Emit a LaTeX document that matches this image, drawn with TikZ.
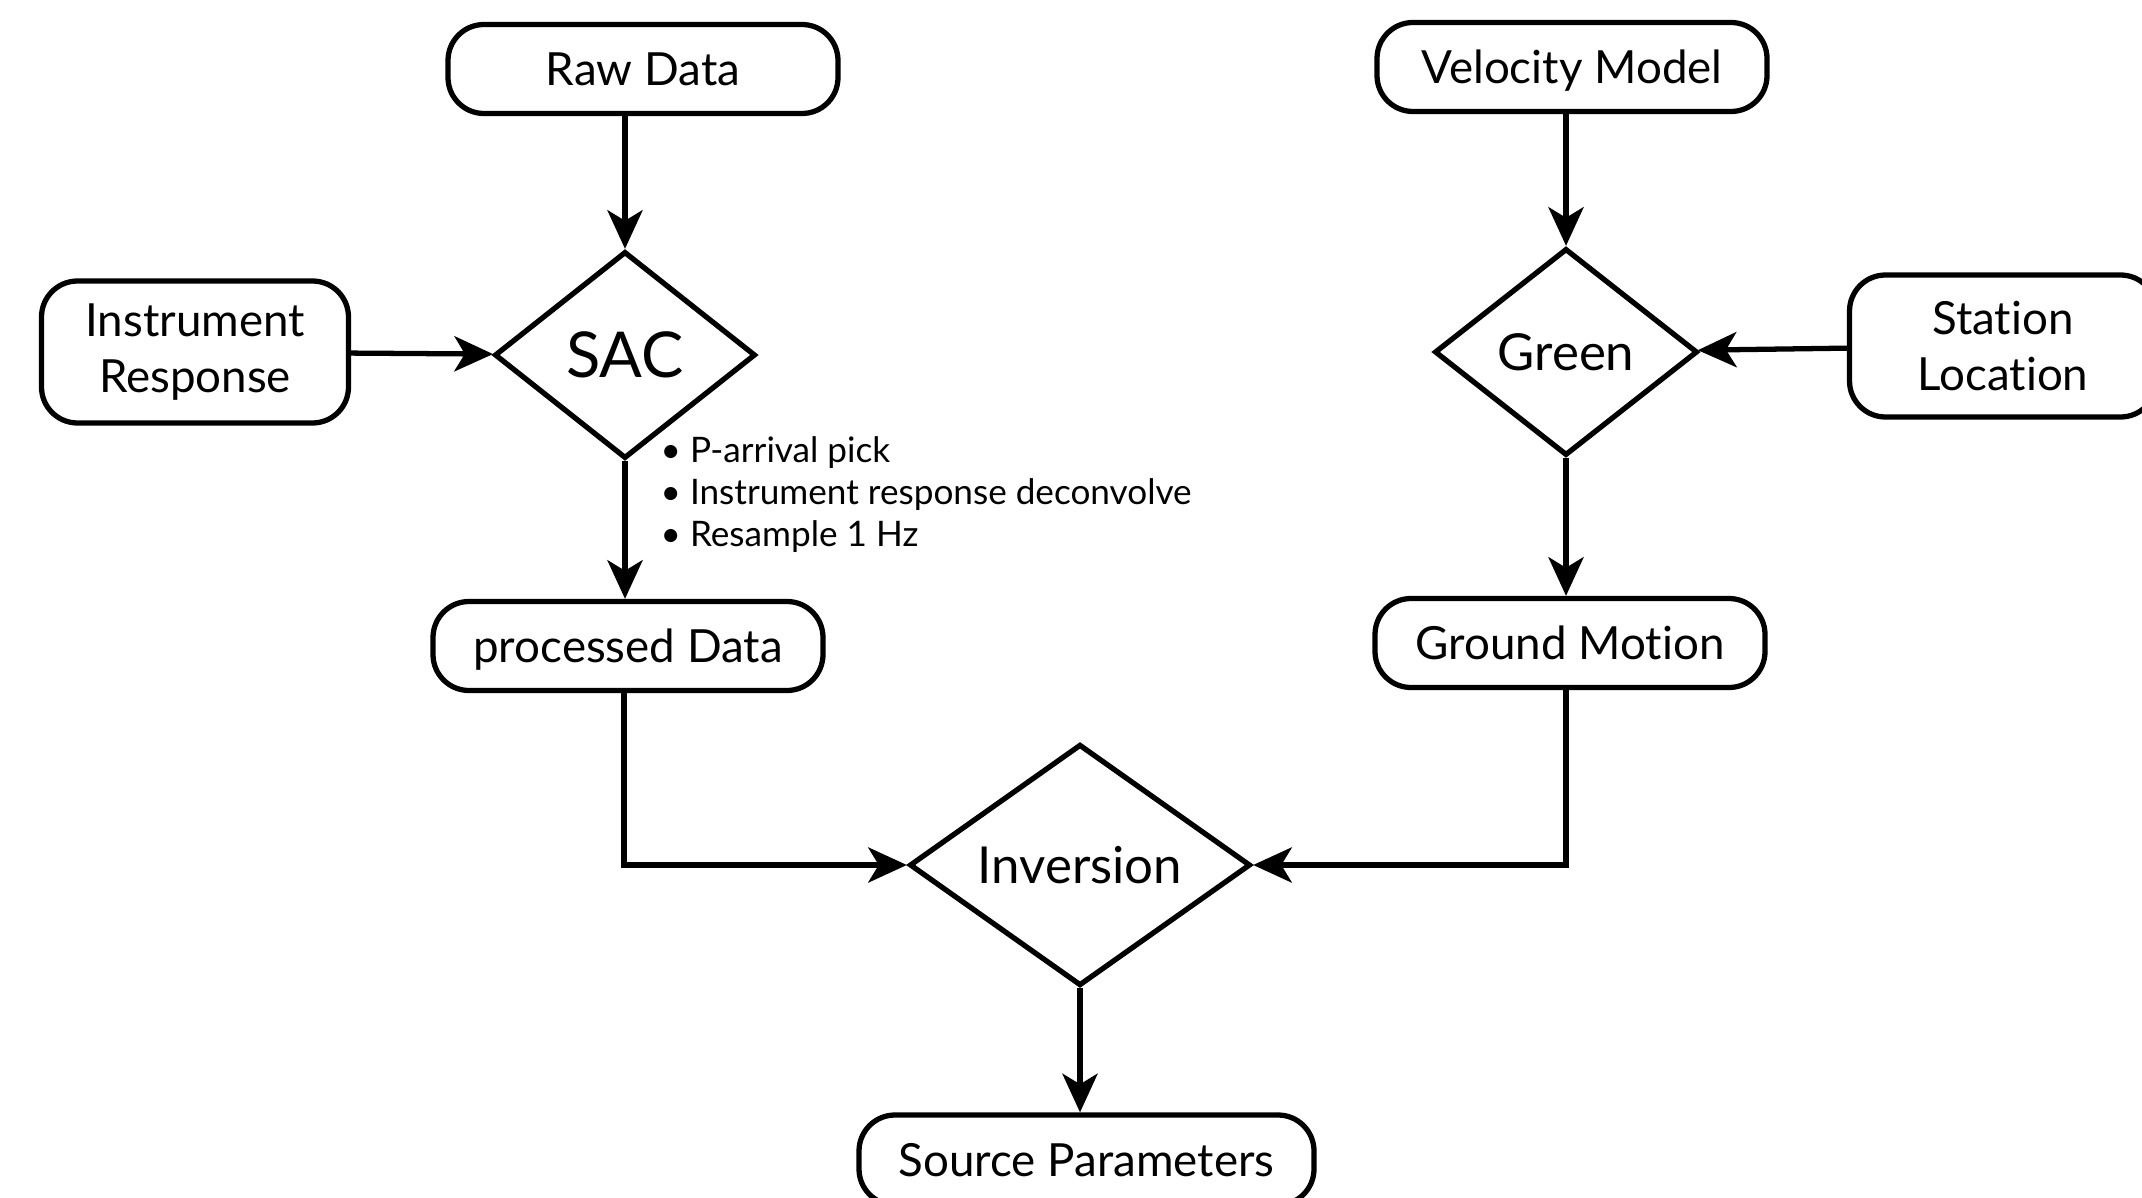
\documentclass[tikz,border=0pt]{standalone}
\usepackage{fontspec}
\setmainfont{Lato}[Ligatures=NoCommon]
\usetikzlibrary{shapes.geometric,arrows.meta}

\begin{document}
\begin{tikzpicture}[
        line width=1.5pt,
        >={Stealth[length=11pt,width=10pt,inset=3pt]},
        shapebox/.style={draw, rounded corners=0.36cm, align=center, font=\fontsize{13}{16}\selectfont},
        box/.style={shapebox, minimum width=3.9cm, minimum height=0.89cm, text depth=0pt},
        sidebox/.style={shapebox, minimum width=3.07cm, minimum height=1.42cm},
        decision/.style={draw, diamond, inner sep=0pt, text depth=0pt, font=\fontsize{14.5}{17}\selectfont},
        flow/.style={->}
    ]
        \useasboundingbox (0,0) rectangle (21.42,11.97);

        % Rama de datos
        \node[box] (raw) at (6.43,11.28) {Raw Data};
        \node[sidebox] (inst) at (1.95,8.45) {Instrument\\Response};
        \node[decision, minimum width=2.61cm, minimum height=2.07cm,
            font=\fontsize{18}{20}\selectfont] (sac) at (6.25,8.42) {SAC};
        \node[box] (proc) at (6.28,5.51) {processed Data};

        % Rama del modelo
        \node[box] (vel) at (15.72,11.30) {Velocity Model};
        \node[sidebox] (station) at (20.03,8.51) {Station\\Location};
        \node[decision, minimum width=2.63cm, minimum height=2.07cm] (green) at (15.66,8.45) {Green};
        \node[box] (ground) at (15.70,5.54) {Ground Motion};

        % Inversion
        \node[decision, minimum width=3.41cm, minimum height=2.31cm] (inv) at (10.80,3.32) {Inversion};
        \node[box, minimum width=4.55cm, minimum height=0.90cm] (src) at (10.865,0.37) {Source Parameters};

        % Pasos de SAC
        \node[anchor=north west, align=left, inner sep=0pt, font=\fontsize{10}{12}\selectfont] (steps)
            at (6.58,7.63) {\textbullet\ P-arrival pick\\
            \textbullet\ Instrument response deconvolve\\
            \textbullet\ Resample 1 Hz};

        % Flechas
        \draw[flow] (raw.south -| sac.north) -- (sac.north);
        \draw[flow] (inst) -- (sac);
        \draw[flow] (sac.south) -- (sac.south |- proc.north);
        \draw[flow] (vel.south -| green.north) -- (green.north);
        \draw[flow] (station) -- (green);
        \draw[flow] (green.south) -- (green.south |- ground.north);
        \draw[flow] ([xshift=-0.04cm]proc.south) |- (inv.west);
        \draw[flow] ([xshift=-0.04cm]ground.south) |- (inv.east);
        \draw[flow] (inv.south) -- (inv.south |- src.north);

    \end{tikzpicture}
\end{document}
